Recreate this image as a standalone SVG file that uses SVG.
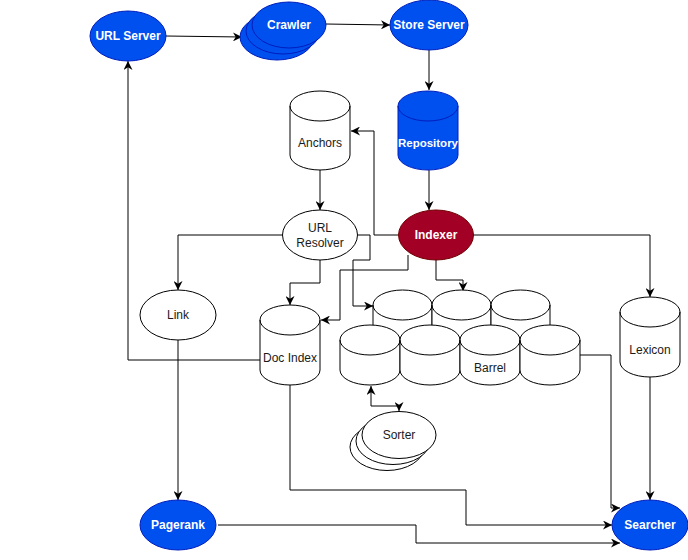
<svg xmlns="http://www.w3.org/2000/svg" width="688" height="560" viewBox="0 0 688 560">
<defs>
<style>
.blue{fill:#0050ef;stroke:#001dbc;stroke-width:1}
.red{fill:#a20025;stroke:#6f0000;stroke-width:1}
.wht{fill:#ffffff;stroke:#000000;stroke-width:1}
.tw{font-family:"Liberation Sans",Arial,sans-serif;font-size:12px;font-weight:bold;fill:#ffffff;text-anchor:middle}
.tb{font-family:"Liberation Sans",Arial,sans-serif;font-size:12px;fill:#1a1a1a;text-anchor:middle}
.c{fill:none;stroke:#000000;stroke-width:1}
</style>
<marker id="ar" viewBox="0 0 10 10" refX="10" refY="5" markerWidth="9" markerHeight="9" markerUnits="userSpaceOnUse" orient="auto-start-reverse">
<path d="M0,0 L10,5 L0,10 L3,5 Z" fill="#000"/>
</marker>
</defs>
<rect width="688" height="560" fill="#ffffff"/>

<g id="connectors">
<path class="c" d="M166,36 L242,37" marker-end="url(#ar)"/>
<path class="c" d="M326,24 L390,25" marker-end="url(#ar)"/>
<path class="c" d="M429,50 L429,90" marker-end="url(#ar)"/>
<path class="c" d="M429,170 L429,210" marker-end="url(#ar)"/>
<path class="c" d="M398,235 L374,235 L374,131 L351,131" marker-end="url(#ar)"/>
<path class="c" d="M320,170 L320,210" marker-end="url(#ar)"/>
<path class="c" d="M283,235 L178,235 L178,290" marker-end="url(#ar)"/>
<path class="c" d="M320,260 L320,283 L290,283 L290,305" marker-end="url(#ar)"/>
<path class="c" d="M358,235 L370,235 L370,260 L353,260 L353,306 L373,306" marker-end="url(#ar)"/>
<path class="c" d="M408,255 L408,270 L340,270 L340,320 L321,320" marker-end="url(#ar)"/>
<path class="c" d="M436,260 L436,280 L463,280 L463,291" marker-end="url(#ar)"/>
<path class="c" d="M473,235 L650,235 L650,297" marker-end="url(#ar)"/>
<path class="c" d="M260,360 L128,360 L128,61" marker-end="url(#ar)"/>
<path class="c" d="M178,340 L178,500" marker-end="url(#ar)"/>
<path class="c" d="M290,385 L290,490 L466,490 L466,525 L612,525" marker-end="url(#ar)"/>
<path class="c" d="M218,525 L416,525 L416,543 L620,543" marker-end="url(#ar)"/>
<path class="c" d="M580,355 L611,355 L611,508 L620,508" marker-end="url(#ar)"/>
<path class="c" d="M650,377 L650,500" marker-end="url(#ar)"/>
<path class="c" d="M371,386 L371,406 L399,406 L399,411" marker-start="url(#ar)" marker-end="url(#ar)"/>
</g>

<g id="url-server">
<ellipse class="blue" cx="128" cy="36" rx="38" ry="25"/>
<text class="tw" x="128" y="40">URL Server</text>
</g>

<g id="crawler">
<ellipse class="blue" cx="277" cy="37" rx="37" ry="23"/>
<ellipse class="blue" cx="283" cy="31" rx="37" ry="23"/>
<ellipse class="blue" cx="289" cy="25" rx="37" ry="23"/>
<text class="tw" x="289" y="29">Crawler</text>
</g>

<g id="store-server">
<ellipse class="blue" cx="429" cy="25" rx="39" ry="25"/>
<text class="tw" x="429" y="29">Store Server</text>
</g>

<g id="repository">
<path class="blue" d="M398,106 A30,15 0 0 1 458,106 L458,155 A30,15 0 0 1 398,155 Z"/>
<path d="M398,106 A30,15 0 0 0 458,106" style="fill:none;stroke:#001dbc;stroke-width:1"/>
<text class="tw" x="428" y="147" style="font-size:11.5px">Repository</text>
</g>

<g id="anchors">
<path class="wht" d="M290,106 A30,15 0 0 1 350,106 L350,155 A30,15 0 0 1 290,155 Z"/>
<path class="c" d="M290,106 A30,15 0 0 0 350,106"/>
<text class="tb" x="320" y="147">Anchors</text>
</g>

<g id="url-resolver">
<ellipse class="wht" cx="320" cy="235" rx="37.5" ry="25"/>
<text class="tb" x="320" y="232">URL</text>
<text class="tb" x="320" y="247">Resolver</text>
</g>

<g id="indexer">
<ellipse class="red" cx="436" cy="235" rx="37.5" ry="25"/>
<text class="tw" x="436" y="239">Indexer</text>
</g>

<g id="link">
<ellipse class="wht" cx="178" cy="315" rx="38" ry="25"/>
<text class="tb" x="178" y="319">Link</text>
</g>

<g id="doc-index">
<path class="wht" d="M260,320 A30,15 0 0 1 320,320 L320,370 A30,15 0 0 1 260,370 Z"/>
<path class="c" d="M260,320 A30,15 0 0 0 320,320"/>
<text class="tb" x="290" y="362">Doc Index</text>
</g>

<g id="barrel">
<path class="wht" d="M373,305 A29.5,15 0 0 1 432,305 L432,335 A29.5,15 0 0 1 373,335 Z"/>
<path class="c" d="M373,305 A29.5,15 0 0 0 432,305"/>
<path class="wht" d="M432,305 A29.5,15 0 0 1 491,305 L491,335 A29.5,15 0 0 1 432,335 Z"/>
<path class="c" d="M432,305 A29.5,15 0 0 0 491,305"/>
<path class="wht" d="M491,305 A29.5,15 0 0 1 550,305 L550,335 A29.5,15 0 0 1 491,335 Z"/>
<path class="c" d="M491,305 A29.5,15 0 0 0 550,305"/>
<path class="wht" d="M340,340 A30,15 0 0 1 400,340 L400,370 A30,15 0 0 1 340,370 Z"/>
<path class="c" d="M340,340 A30,15 0 0 0 400,340"/>
<path class="wht" d="M400,340 A30,15 0 0 1 460,340 L460,370 A30,15 0 0 1 400,370 Z"/>
<path class="c" d="M400,340 A30,15 0 0 0 460,340"/>
<path class="wht" d="M460,340 A30,15 0 0 1 520,340 L520,370 A30,15 0 0 1 460,370 Z"/>
<path class="c" d="M460,340 A30,15 0 0 0 520,340"/>
<path class="wht" d="M520,340 A30,15 0 0 1 580,340 L580,370 A30,15 0 0 1 520,370 Z"/>
<path class="c" d="M520,340 A30,15 0 0 0 580,340"/>
<text class="tb" x="490" y="372">Barrel</text>
</g>

<g id="sorter">
<ellipse class="wht" cx="387" cy="447" rx="37" ry="23.5"/>
<ellipse class="wht" cx="393" cy="441" rx="37" ry="23.5"/>
<ellipse class="wht" cx="399" cy="435" rx="37" ry="23.5"/>
<text class="tb" x="399" y="439">Sorter</text>
</g>

<g id="lexicon">
<path class="wht" d="M620,312 A30,15 0 0 1 680,312 L680,362 A30,15 0 0 1 620,362 Z"/>
<path class="c" d="M620,312 A30,15 0 0 0 680,312"/>
<text class="tb" x="650" y="354">Lexicon</text>
</g>

<g id="pagerank">
<ellipse class="blue" cx="178" cy="525" rx="38" ry="25"/>
<text class="tw" x="178" y="529">Pagerank</text>
</g>

<g id="searcher">
<ellipse class="blue" cx="650" cy="525" rx="38" ry="25"/>
<text class="tw" x="650" y="529">Searcher</text>
</g>
</svg>
